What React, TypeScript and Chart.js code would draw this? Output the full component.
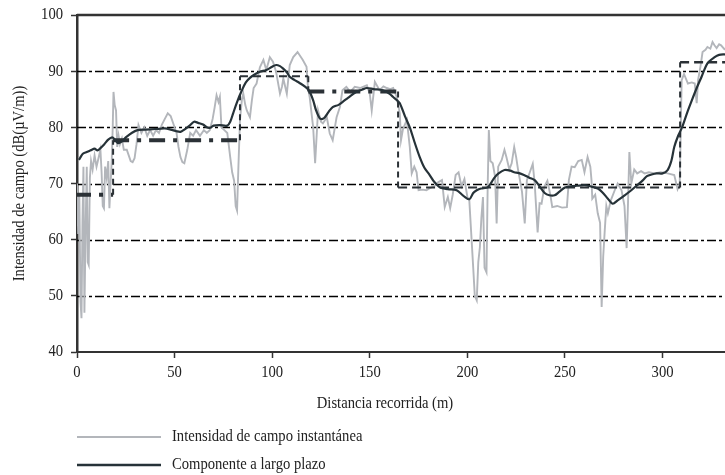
import React, { useEffect, useRef } from "react";
import { Chart, registerables } from "chart.js";

Chart.register(...registerables);

// Instantaneous field strength along the route: distance (m) and level (dB(µV/m))
const instDistance = [
  0, 0.6, 1.2, 1.8, 2.3, 2.8, 3.3, 3.8, 4.4, 5, 5.5, 6, 6.6, 7.2, 8, 9, 10, 11, 12, 12.6,
  13.2, 13.8, 14.4, 15.2, 16, 16.6, 17.2, 17.8, 18.3, 18.7, 19.3, 20, 20.6, 21.3, 22, 23, 24, 25.5, 26.5, 27.5,
  28.5, 29.5, 30.5, 31.5, 33, 34.5, 36, 37.5, 39, 40.5, 42, 43.5, 45, 46.5, 48, 49.5, 51, 52, 53, 54,
  55, 56.5, 58, 59.5, 61, 63, 65, 66.5, 68, 69.5, 70.5, 71.5, 72.5, 73.2, 74, 75.5, 77, 78.5, 79.5, 80.5,
  81.3, 82, 82.7, 83.5, 84.5, 85.2, 86.2, 87, 88.6, 89.6, 90.5, 92, 93.7, 95.5, 97, 98.8, 100.4, 102, 104, 105,
  105.7, 107.5, 109, 110.8, 113, 115.7, 117.6, 118.3, 119.2, 121, 122, 123.5, 125, 126, 128, 129.5, 131, 133, 134.7, 136,
  138, 140, 142.3, 145, 148.5, 150, 151, 152.6, 155, 157, 158.7, 160.5, 162, 163.8, 165.4, 166, 167, 169, 170.5, 171.5,
  172.8, 174, 175, 177, 179, 181, 183, 185, 187, 188.4, 190, 191.2, 192.5, 194, 195.5, 197, 198.5, 200, 201, 202,
  203, 203.8, 204.8, 205.6, 206.4, 207.2, 208, 208.8, 209.8, 210.4, 211, 211.8, 213, 214.2, 215, 215.8, 217.6, 219, 220, 221.5,
  222.7, 224, 225, 226, 227, 228, 229.4, 230.5, 232, 233.5, 234.5, 236, 237, 238, 239.5, 241, 242.5, 243.5, 246, 248.5,
  251, 252, 253.4, 255, 256.8, 258.6, 260, 261.6, 263, 263.6, 264, 265.5, 266.8, 268, 268.8, 269.6, 270.4, 271.2, 272, 273.5,
  275.5, 277, 279, 280.5, 281.6, 282.3, 283, 284, 285.5, 287, 289, 290.8, 293, 296, 299, 302.6, 306, 307.7, 308.8, 309.8,
  311, 313, 315, 316.5, 317.5, 318.2, 319.5, 320.5, 322, 323, 324.5, 325.6, 326.6, 327.7, 329, 330, 331, 332,
];
const instField = [
  70, 61, 68, 49, 46, 63, 73, 47, 62, 73, 56, 55.5, 71, 74, 72.5, 75, 73, 74.5, 76, 72,
  66, 65.6, 73, 71, 74, 65.6, 70, 74, 80, 86.3, 84, 83, 76.5, 78.5, 77, 78, 76, 76, 75, 74,
  73.8, 74.5, 77, 80.4, 79, 80, 78.5, 79.5, 78.5, 79.5, 79, 80.5, 81.5, 82.5, 82, 80.5, 79, 76.5, 74.7, 73.8,
  73.6, 76, 79, 78.5, 79.5, 78.5, 79.5, 79, 79.5, 81.5, 83.5, 85.7, 84.5, 85.4, 80, 79.5, 79, 74.7, 72, 70.5,
  66, 65.2, 73, 81.3, 85, 86, 84, 83, 81.8, 84.8, 87, 87.8, 90.7, 92, 90.2, 92.5, 91.7, 89.9, 86, 87.2,
  88.7, 86, 91.1, 92.5, 93.4, 92, 90.8, 87.2, 85.4, 80, 73.6, 83, 81, 80.7, 81.8, 78.9, 77.7, 81.8, 83.6, 86.6,
  87.2, 86.3, 87.2, 87, 87.5, 86, 83, 88.1, 86.6, 87.3, 87, 86.8, 87, 85.4, 82.5, 77.7, 79.7, 81.3, 76.5, 71.8,
  73, 72, 68.8, 68.9, 68.8, 69.2, 69.5, 70.2, 70.6, 65.8, 67.6, 65.6, 68, 71.5, 72, 69.5, 70.8, 67.6, 67, 61,
  55, 50, 49.2, 56, 58.6, 64, 67.6, 55, 54.2, 69.3, 79.5, 74, 73.6, 71.2, 62.9, 73, 74.2, 76, 74.7, 72.5,
  73.6, 76.5, 74.7, 72.4, 70.5, 68.5, 62.9, 70.6, 72, 73.5, 70, 61.3, 66.5, 66.4, 69.5, 70.5, 68, 65.8, 66, 65.7,
  65.8, 70.6, 73, 72.9, 74, 74.2, 72, 74.7, 73, 70.6, 67.3, 68, 64.7, 63, 48, 57, 61.7, 66, 64.7, 67,
  68.8, 70, 68.8, 66, 58.5, 66.4, 75.6, 70, 72.5, 71.8, 72.2, 71.8, 72, 71.8, 72, 71.8, 71.5, 69, 70, 88.4,
  89.5, 87.8, 88, 87.8, 84.3, 88.4, 91, 93.4, 93.8, 94.3, 94, 95.2, 94.6, 94.1, 94.8, 94.6, 94.2, 93.8,
];

// Long-term (slow fading) component
const longDistance = [
  1, 1.5, 3, 5, 7, 9, 10.5, 12, 14, 16, 18, 19.5, 21, 23, 25, 28, 31, 35, 40, 45,
  48, 51, 53, 55, 58, 60, 62, 64.6, 66.5, 68, 70, 73, 77, 78.5, 80, 82, 84.5, 86.5, 88.6, 91,
  93.7, 97, 100, 102, 104, 105.5, 107.5, 109, 111.5, 114, 117, 119, 121, 122.5, 124.4, 125.8, 127, 129, 131, 134,
  136, 139, 143, 146, 148.5, 152, 156.7, 160, 162, 164, 165.4, 168, 170.5, 173, 175.6, 178, 180.7, 183, 186, 190,
  194.5, 198, 201, 203, 204.8, 207, 210.4, 212.5, 214, 216, 219, 222, 224, 226, 229, 232, 234.5, 237, 239.6, 242,
  244.7, 247, 250, 253, 256, 260, 263, 266.8, 269, 272, 274.5, 277, 280.6, 284, 287, 290, 292, 294.4, 297, 300,
  302.6, 304.5, 306, 308, 310, 312.5, 315, 317.5, 320, 323, 326.7, 329, 332,
];
const longField = [
  74.2, 74.5, 75.3, 75.6, 75.9, 76.2, 75.9, 76.3, 77, 77.8, 78.2, 77.8, 77.2, 77.5, 78.2, 79, 79.5, 79.6, 79.7, 79.8,
  79.6, 79.3, 79.2, 79.6, 80.4, 81, 80.8, 80.5, 80, 79.9, 80.3, 80.4, 80.3, 81, 82.5, 84.5, 86.6, 88, 88.8, 89.4,
  89.9, 90.2, 90.8, 91.1, 90.9, 90.5, 89.8, 89, 88.4, 87.9, 87.2, 86.5, 84.8, 83, 81.6, 81.5, 81.8, 82.8, 83.6, 84,
  84.5, 85.3, 86.3, 86.7, 87, 86.8, 86.6, 86, 85.4, 84.8, 84.3, 82, 80, 77.3, 74.7, 72.8, 71.5, 70.3, 69.3, 69,
  68.8, 67.8, 67.2, 68.3, 68.8, 69.1, 69.3, 70.3, 71.1, 71.8, 72.4, 72.3, 72, 71.9, 71.5, 71, 70.6, 69.5, 68.3, 67.9,
  67.9, 68.5, 69.3, 69.5, 69.6, 69.7, 69.5, 69.1, 68.5, 67.3, 66.4, 67, 67.9, 68.8, 69.7, 70.6, 71.3, 71.6, 71.8, 71.8,
  72.4, 74, 76.5, 78.5, 80, 82.5, 84.8, 87, 89, 91.4, 92.5, 92.9, 93,
];

// Median level of each route section: section boundaries (m) and level (dB(µV/m))
const sectionEdges = [0, 18.5, 83.5, 118.5, 164.5, 309, 332];
const sectionLevels = [68, 77.7, 89.1, 86.4, 69.3, 91.6];

const xTickValues = [0, 50, 100, 150, 200, 250, 300];
const yTickValues = [40, 50, 60, 70, 80, 90, 100];
const gridLevels = [50, 60, 70, 80, 90];

const legendLabels = ["Intensidad de campo instantánea", "Componente a largo plazo"];
const xTitle = "Distancia recorrida (m)";
const yTitle = "Intensidad de campo (dB(µV/m))";

// Line styles for each section's median level
const sectionStyles = [
  { width: 4, dash: [14, 8, 4, 8] },
  { width: 4, dash: [16, 8, 4, 8] },
  { width: 2, dash: [8, 5] },
  { width: 4, dash: [16, 8, 4, 8] },
  { width: 2, dash: [9, 5] },
  { width: 2.5, dash: [9, 5] },
];

const INST_COLOR = "#b3b6bb";
const LONG_COLOR = "#263238";
const STEP_COLOR = "#2b3136";
const AXIS_COLOR = "#333333";
const TEXT_COLOR = "#222222";
const FONT_FAMILY = "'Liberation Serif', 'Times New Roman', serif";
const FONT_SIZE = 17;
const TEXT_SQUEEZE = 0.86;

function drawText(
  ctx: CanvasRenderingContext2D,
  text: string,
  x: number,
  y: number,
  align: CanvasTextAlign,
  size: number,
  angle = 0
) {
  ctx.save();
  ctx.translate(x, y);
  if (angle) ctx.rotate(angle);
  ctx.scale(TEXT_SQUEEZE, 1);
  ctx.font = `${size}px ${FONT_FAMILY}`;
  ctx.fillStyle = TEXT_COLOR;
  ctx.textAlign = align;
  ctx.textBaseline = "middle";
  ctx.fillText(text, 0, 0);
  ctx.restore();
}

const decorations = {
  id: "decorations",
  beforeDatasetsDraw(chart: any) {
    const { ctx, chartArea, scales } = chart;
    const y = scales.y;
    ctx.save();
    ctx.strokeStyle = "#000000";
    ctx.lineWidth = 1.6;
    ctx.setLineDash([9, 3, 3, 3]);
    gridLevels.forEach((v) => {
      const py = Math.round(y.getPixelForValue(v)) + 0.5;
      ctx.beginPath();
      ctx.moveTo(chartArea.left, py);
      ctx.lineTo(chartArea.right, py);
      ctx.stroke();
    });
    ctx.setLineDash([]);
    ctx.strokeStyle = AXIS_COLOR;
    ctx.lineWidth = 2.5;
    const top = y.getPixelForValue(100);
    ctx.beginPath();
    ctx.moveTo(chartArea.left, top);
    ctx.lineTo(chartArea.right, top);
    ctx.stroke();
    ctx.restore();
  },
  afterDraw(chart: any) {
    const { ctx, chartArea, scales } = chart;
    const { x, y } = scales;
    yTickValues.forEach((v) => {
      drawText(ctx, String(v), chartArea.left - 14, y.getPixelForValue(v), "right", FONT_SIZE);
    });
    xTickValues.forEach((v) => {
      drawText(ctx, String(v), x.getPixelForValue(v), chartArea.bottom + 21, "center", FONT_SIZE);
    });
    drawText(ctx, xTitle, 385, chartArea.bottom + 52, "center", FONT_SIZE);
    drawText(ctx, yTitle, 20, (chartArea.top + chartArea.bottom) / 2, "center", FONT_SIZE, -Math.PI / 2);

    // legend
    const rows = [
      { label: legendLabels[0], color: INST_COLOR, width: 2 },
      { label: legendLabels[1], color: LONG_COLOR, width: 2.5 },
    ];
    rows.forEach((row, i) => {
      const ly = 437 + i * 28;
      ctx.save();
      ctx.strokeStyle = row.color;
      ctx.lineWidth = row.width;
      ctx.beginPath();
      ctx.moveTo(77, ly);
      ctx.lineTo(161, ly);
      ctx.stroke();
      ctx.restore();
      drawText(ctx, row.label, 172, ly, "left", FONT_SIZE);
    });
  },
};

export default function App() {
  const canvasRef = useRef<HTMLCanvasElement | null>(null);

  useEffect(() => {
    const canvas = canvasRef.current;
    if (!canvas) return;

    const sectionSets = sectionLevels.map((level, i) => ({
      label: `section-${i}`,
      data: [
        { x: sectionEdges[i], y: level },
        { x: sectionEdges[i + 1], y: level },
      ],
      borderColor: STEP_COLOR,
      borderWidth: sectionStyles[i].width,
      borderDash: sectionStyles[i].dash,
      borderCapStyle: "butt" as const,
      pointRadius: 0,
      tension: 0,
      order: 1,
    }));

    const connectorPoints: { x: number; y: number | null }[] = [];
    for (let i = 1; i < sectionEdges.length - 1; i++) {
      connectorPoints.push({ x: sectionEdges[i], y: sectionLevels[i - 1] });
      connectorPoints.push({ x: sectionEdges[i], y: sectionLevels[i] });
      connectorPoints.push({ x: sectionEdges[i], y: null });
    }

    const chart = new Chart(canvas, {
      type: "line",
      data: {
        datasets: [
          {
            label: legendLabels[1],
            data: longDistance.map((d, i) => ({ x: d, y: longField[i] })),
            borderColor: LONG_COLOR,
            borderWidth: 2.2,
            pointRadius: 0,
            tension: 0.3,
            order: 0,
          },
          ...sectionSets,
          {
            label: "section-steps",
            data: connectorPoints,
            borderColor: STEP_COLOR,
            borderWidth: 2,
            borderDash: [6, 4],
            pointRadius: 0,
            spanGaps: false,
            order: 1,
          },
          {
            label: legendLabels[0],
            data: instDistance.map((d, i) => ({ x: d, y: instField[i] })),
            borderColor: INST_COLOR,
            borderWidth: 1.9,
            pointRadius: 0,
            tension: 0,
            order: 2,
          },
        ],
      },
      options: {
        responsive: false,
        animation: false,
        devicePixelRatio: 1,
        layout: { padding: { left: 0, right: 0, top: 15, bottom: 117 } },
        plugins: {
          legend: { display: false },
          tooltip: { enabled: false },
        },
        scales: {
          x: {
            type: "linear",
            min: 0,
            max: 332,
            afterBuildTicks: (scale: any) => {
              scale.ticks = xTickValues.map((v) => ({ value: v }));
            },
            afterFit: (scale: any) => {
              scale.height = 6;
            },
            ticks: { display: false },
            grid: {
              drawOnChartArea: false,
              drawTicks: true,
              tickLength: 6,
              tickColor: AXIS_COLOR,
              tickWidth: 1.5,
            },
            border: { display: true, color: AXIS_COLOR, width: 2 },
          },
          y: {
            type: "linear",
            min: 40,
            max: 100,
            afterBuildTicks: (scale: any) => {
              scale.ticks = yTickValues.map((v) => ({ value: v }));
            },
            afterFit: (scale: any) => {
              scale.width = 77;
            },
            ticks: { display: false },
            grid: {
              drawOnChartArea: false,
              drawTicks: true,
              tickLength: 6,
              tickColor: AXIS_COLOR,
              tickWidth: 1.5,
            },
            border: { display: true, color: AXIS_COLOR, width: 2.5 },
          },
        },
      },
      plugins: [decorations],
    });

    return () => chart.destroy();
  }, []);

  return (
    <div style={{ position: "fixed", left: 0, top: 0, width: 725, height: 475, background: "#ffffff" }}>
      <canvas ref={canvasRef} width={725} height={475} />
    </div>
  );
}
